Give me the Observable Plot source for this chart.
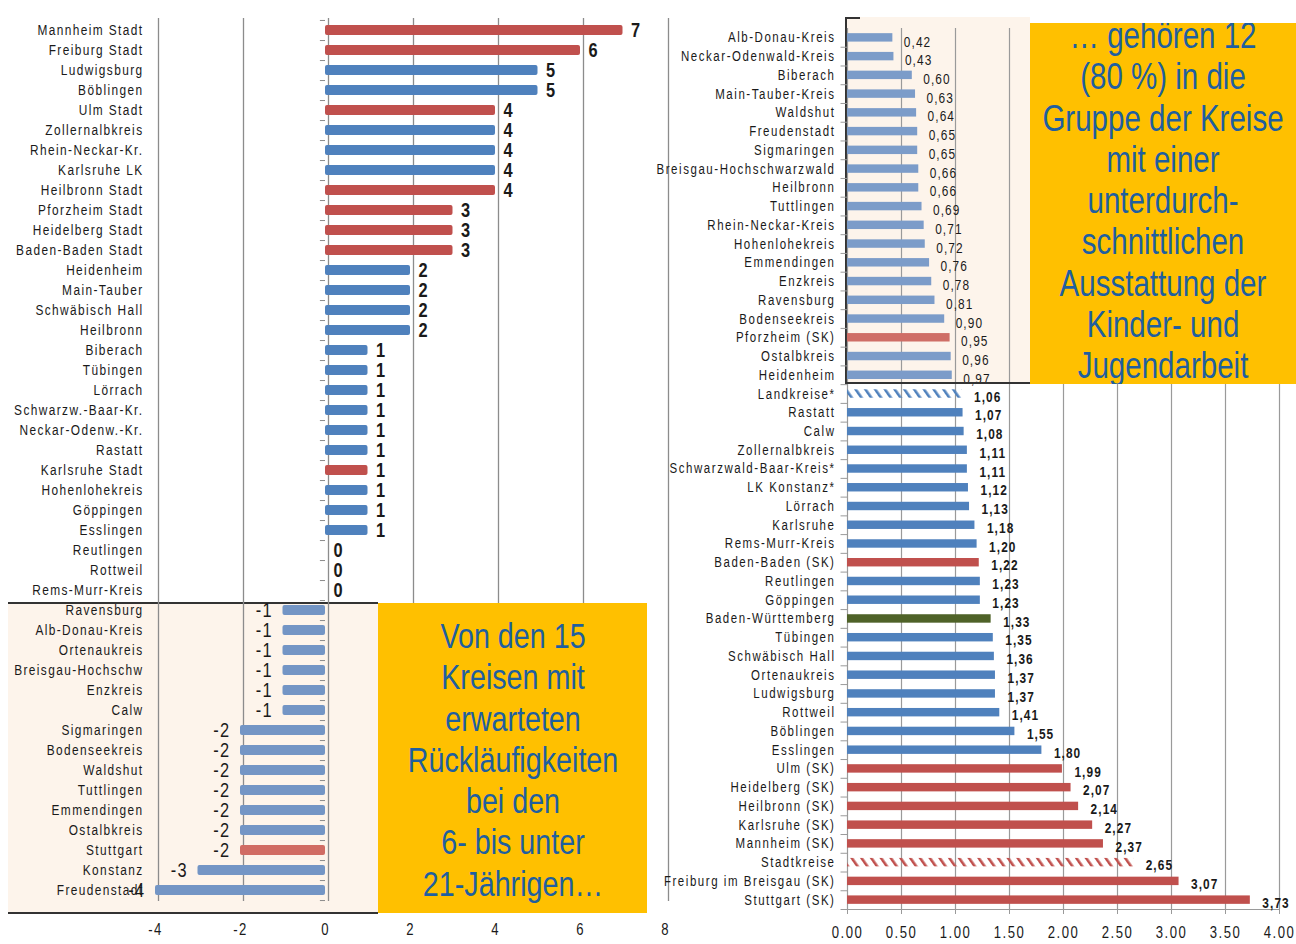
<!DOCTYPE html>
<html>
<head>
<meta charset="utf-8">
<script src="https://cdn.jsdelivr.net/npm/d3@7"></script>
<script src="https://cdn.jsdelivr.net/npm/@observablehq/plot@0.6"></script>
<style>
  html, body { margin: 0; padding: 0; background: #fff; }
  #stage { position: relative; width: 1296px; height: 944px; overflow: hidden; font-family: 'Liberation Sans', Arial, sans-serif; }
  .layer { position: absolute; top: 0; }
  .peach { position: absolute; background: #FDF4EB; }
  .box { position: absolute; background: #FFC000; color: #1F5F9F; text-align: center; overflow: hidden; }
  .box > div { transform: scaleX(0.82); transform-origin: 50% 0; }
  .line { position: absolute; background: #333; }
</style>
</head>
<body>
<div id="stage">
  <div class="peach" style="left:8px; top:602px; width:370px; height:312px; border-top:2px solid #333; border-bottom:2px solid #333; box-sizing:border-box;"></div>
  <div class="peach" style="left:845px; top:17px; width:185px; height:367px; border-left:2px solid #333; box-sizing:border-box;"></div>
  <div class="layer" id="left" style="left:0; width:670px;"></div>
  <div class="layer" id="right" style="left:640px; width:656px;"></div>
  <div class="line" style="left:845px; top:17px; width:15px; height:2px;"></div>
  <div class="line" style="left:845px; top:382px; width:404px; height:2px;"></div>
  <div class="box" style="left:378px; top:603px; width:269px; height:310px; font-size:35px; line-height:41.3px;">
    <div style="width:330px; margin-left:-30.5px; padding-top:12px;">Von den 15<br>Kreisen mit<br>erwarteten<br>Rückläufigkeiten<br>bei den<br>6- bis unter<br>21-Jährigen…</div>
  </div>
  <div class="box" style="left:1030px; top:23px; width:266px; height:361px; font-size:36px; line-height:41.3px;">
    <div style="width:324px; margin-left:-29px; margin-top:-8px;">… gehören 12<br>(80 %) in die<br>Gruppe der Kreise<br>mit einer<br>unterdurch-<br>schnittlichen<br>Ausstattung der<br>Kinder- und<br>Jugendarbeit</div>
  </div>
</div>
<script>
// ---------- Left chart data ----------
const leftNames = [
  "Mannheim Stadt","Freiburg Stadt","Ludwigsburg","Böblingen","Ulm Stadt","Zollernalbkreis",
  "Rhein-Neckar-Kr.","Karlsruhe LK","Heilbronn Stadt","Pforzheim Stadt","Heidelberg Stadt",
  "Baden-Baden Stadt","Heidenheim","Main-Tauber","Schwäbisch Hall","Heilbronn","Biberach",
  "Tübingen","Lörrach","Schwarzw.-Baar-Kr.","Neckar-Odenw.-Kr.","Rastatt","Karlsruhe Stadt",
  "Hohenlohekreis","Göppingen","Esslingen","Reutlingen","Rottweil","Rems-Murr-Kreis",
  "Ravensburg","Alb-Donau-Kreis","Ortenaukreis","Breisgau-Hochschw","Enzkreis","Calw",
  "Sigmaringen","Bodenseekreis","Waldshut","Tuttlingen","Emmendingen","Ostalbkreis",
  "Stuttgart","Konstanz","Freudenstadt"
];
const leftValues = [
  7,6,5,5,4,4,4,4,4,3,3,3,2,2,2,2,1,1,1,1,1,1,1,1,1,1,0,0,0,
  -1,-1,-1,-1,-1,-1,-2,-2,-2,-2,-2,-2,-2,-3,-4
];
const leftKinds = [
  "SK","SK","LK","LK","SK","LK","LK","LK","SK","SK","SK","SK","LK","LK","LK","LK","LK",
  "LK","LK","LK","LK","LK","SK","LK","LK","LK","LK","LK","LK",
  "LK","LK","LK","LK","LK","LK","LK","LK","LK","LK","LK","LK","SK","LK","LK"
];
const leftTicks = [-4,-2,0,2,4,6,8];

// ---------- Right chart data ----------
const rightNames = [
  "Alb-Donau-Kreis","Neckar-Odenwald-Kreis","Biberach","Main-Tauber-Kreis","Waldshut",
  "Freudenstadt","Sigmaringen","Breisgau-Hochschwarzwald","Heilbronn","Tuttlingen",
  "Rhein-Neckar-Kreis","Hohenlohekreis","Emmendingen","Enzkreis","Ravensburg",
  "Bodenseekreis","Pforzheim (SK)","Ostalbkreis","Heidenheim",
  "Landkreise*","Rastatt","Calw","Zollernalbkreis","Schwarzwald-Baar-Kreis*","LK Konstanz*",
  "Lörrach","Karlsruhe","Rems-Murr-Kreis","Baden-Baden (SK)","Reutlingen","Göppingen",
  "Baden-Württemberg","Tübingen","Schwäbisch Hall","Ortenaukreis","Ludwigsburg","Rottweil",
  "Böblingen","Esslingen","Ulm (SK)","Heidelberg (SK)","Heilbronn (SK)","Karlsruhe (SK)",
  "Mannheim (SK)","Stadtkreise","Freiburg im Breisgau (SK)","Stuttgart (SK)"
];
const rightValues = [
  0.42,0.43,0.60,0.63,0.64,0.65,0.65,0.66,0.66,0.69,0.71,0.72,0.76,0.78,0.81,0.90,0.95,0.96,0.97,
  1.06,1.07,1.08,1.11,1.11,1.12,1.13,1.18,1.20,1.22,1.23,1.23,1.33,1.35,1.36,1.37,1.37,1.41,
  1.55,1.80,1.99,2.07,2.14,2.27,2.37,2.65,3.07,3.73
];
const rightKinds = [
  "LK","LK","LK","LK","LK","LK","LK","LK","LK","LK","LK","LK","LK","LK","LK","LK","SK","LK","LK",
  "LKavg","LK","LK","LK","LK","LK","LK","LK","LK","SK","LK","LK","BW","LK","LK","LK","LK","LK",
  "LK","LK","SK","SK","SK","SK","SK","SKavg","SK","SK"
];
const rightTicks = [0,0.5,1,1.5,2,2.5,3,3.5,4];
const upperGroupCount = 19; // rows in the shaded upper group

// ---------- Helpers ----------
const fontFam = "'Liberation Sans', Arial, sans-serif";
// emulate a narrow typeface: squeeze every text horizontally around its anchor
function narrow(svg, k) {
  svg.querySelectorAll("text").forEach(t => {
    let tr = t.getAttribute("transform") || "";
    const x = t.getAttribute("x");
    if (x !== null && !isNaN(parseFloat(x))) {
      t.removeAttribute("x");
      tr += ` translate(${parseFloat(x)},0)`;
    }
    t.setAttribute("transform", tr + ` scale(${k},1)`);
  });
}

// ---------- Left chart ----------
const leftData = leftNames.map((name, i) => ({name, value: leftValues[i], kind: leftKinds[i]}));
const leftColor = d => d.value < 0
  ? (d.kind === "SK" ? "#D06C64" : "#7395C5")
  : (d.kind === "SK" ? "#C0504D" : "#4F81BD");
const leftStep = (944 - 18 - 43) / leftNames.length;

const leftPlot = Plot.plot({
  width: 670, height: 944,
  marginLeft: 155, marginRight: 5, marginTop: 18, marginBottom: 43,
  style: {background: "transparent", fontFamily: fontFam, fontSize: "14.5px", letterSpacing: "1.7px", color: "#1a1a1a", overflow: "visible"},
  x: {domain: [-4, 8], label: null},
  y: {domain: leftNames, paddingInner: 0.5, paddingOuter: 0.25, label: null},
  color: {type: "identity"},
  marks: [
    Plot.ruleX(leftTicks, {stroke: "#8c8c8c", strokeWidth: 1.3, dx: 3}),
    Plot.ruleY(leftNames, {y: d => d, x1: -0.12, x2: 0, dy: leftStep / 2, stroke: "#8c8c8c"}),
    Plot.ruleY([leftNames[0]], {y: d => d, x1: -0.12, x2: 0, dy: -leftStep / 2, stroke: "#8c8c8c"}),
    Plot.barX(leftData, {x: "value", y: "name", fill: leftColor, rx: 2}),
    Plot.text(leftData.filter(d => d.value >= 0), {
      x: "value", y: "name", text: d => String(d.value), textAnchor: "start",
      dx: 8, fontWeight: "bold", fontSize: 20, fill: "#1a1a1a"
    }),
    Plot.text(leftData.filter(d => d.value < 0), {
      x: "value", y: "name", text: d => String(d.value), textAnchor: "end",
      dx: -10, fontSize: 20, fill: "#1a1a1a"
    }),
    Plot.axisY({tickSize: 0, tickPadding: 12, fontSize: 14.5, label: null}),
    Plot.axisX({ticks: leftTicks, tickFormat: d => String(d), tickSize: 0, tickPadding: 22, fontSize: 16, label: null})
  ]
});
narrow(leftPlot, 0.82);
document.getElementById("left").appendChild(leftPlot);

// ---------- Right chart ----------
const rightData = rightNames.map((name, i) => ({name, value: rightValues[i], kind: rightKinds[i], upper: i < upperGroupCount}));
const rightColor = d => {
  if (d.kind === "LKavg") return "url(#hatchBlue)";
  if (d.kind === "SKavg") return "url(#hatchRed)";
  if (d.kind === "BW") return "#4F6228";
  if (d.upper) return d.kind === "SK" ? "#CF6E66" : "#7C9CC9";
  return d.kind === "SK" ? "#C0504D" : "#4F81BD";
};
const fmt = v => v.toFixed(2).replace(".", ",");
const rightStep = (944 - 28 - 35) / rightNames.length;

const rightPlot = Plot.plot({
  width: 656, height: 944,
  marginLeft: 207, marginRight: 17, marginTop: 28, marginBottom: 35,
  style: {background: "transparent", fontFamily: fontFam, fontSize: "14px", letterSpacing: "1.9px", color: "#1a1a1a", overflow: "visible"},
  x: {domain: [0, 4], label: null},
  y: {domain: rightNames, paddingInner: 0.55, paddingOuter: 0.275, label: null},
  color: {type: "identity"},
  marks: [
    Plot.ruleX(rightTicks.slice(1), {stroke: "#9a9a9a", strokeWidth: 1.2}),
    Plot.ruleX([0], {stroke: "#9a9a9a", strokeWidth: 1.2}),
    Plot.ruleY(rightNames, {y: d => d, x1: -0.06, x2: 0, dy: rightStep / 2, stroke: "#9a9a9a"}),
    Plot.ruleY([rightNames[rightNames.length - 1]], {y: d => d, x1: 0, x2: 4, dy: rightStep / 2, stroke: "#9a9a9a"}),
    Plot.barX(rightData, {x: "value", y: "name", fill: rightColor}),
    Plot.text(rightData.filter(d => d.upper), {
      x: "value", y: "name", text: d => fmt(d.value), textAnchor: "start",
      dx: 11, dy: 4, fontSize: 14.5, fill: "#1a1a1a"
    }),
    Plot.text(rightData.filter(d => !d.upper), {
      x: "value", y: "name", text: d => fmt(d.value), textAnchor: "start",
      dx: 12, dy: 3, fontSize: 14.5, fontWeight: "bold", fill: "#1a1a1a"
    }),
    Plot.axisY({tickSize: 0, tickPadding: 12, fontSize: 14, label: null}),
    Plot.axisX({ticks: rightTicks, tickFormat: d => d.toFixed(2), tickSize: 5, tickPadding: 12, fontSize: 16, stroke: "#9a9a9a", label: null})
  ]
});
const defs = d3.select(rightPlot).insert("defs", ":first-child");
[["hatchBlue", "#4F81BD"], ["hatchRed", "#C0504D"]].forEach(([id, c]) => {
  defs.append("pattern")
    .attr("id", id).attr("patternUnits", "userSpaceOnUse")
    .attr("width", 8).attr("height", 10)
    .attr("patternTransform", "rotate(-35)")
    .append("rect").attr("width", 2.6).attr("height", 10).attr("fill", c);
});
d3.select(rightPlot).selectAll('g[aria-label="text"]').style("letter-spacing", "1.3px");
narrow(rightPlot, 0.82);
document.getElementById("right").appendChild(rightPlot);
</script>
</body>
</html>
